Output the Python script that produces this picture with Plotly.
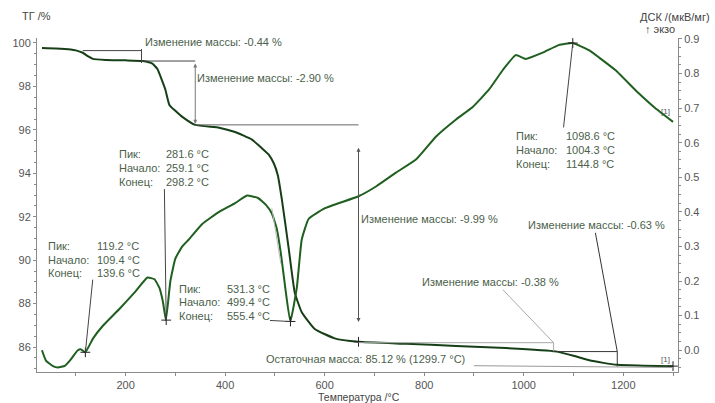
import plotly.graph_objects as go

# ---- data ----
tg_temp = [32, 60, 90, 100, 114, 125, 134, 160, 200, 234, 254, 264, 272, 280, 288, 300, 314, 340,
           388, 420, 454, 474, 488, 498, 506, 514, 528, 540, 554, 580, 620, 668, 764, 864, 964,
           1064, 1100, 1130, 1160, 1188, 1240, 1300]
tg_mass = [99.77, 99.75, 99.7, 99.66, 99.55, 99.38, 99.27, 99.22, 99.2, 99.17, 99.05, 98.8, 98.35,
           97.85, 97.15, 96.88, 96.6, 96.23, 96.1, 95.9, 95.55, 95.15, 94.85, 94.45, 93.9, 92.8,
           90.5, 88.5, 87.6, 86.83, 86.4, 86.24, 86.15, 86.05, 85.95, 85.8, 85.6, 85.4, 85.27,
           85.18, 85.14, 85.12]

dsc_temp = [32, 40, 54, 64, 78, 88, 104, 110, 119, 135, 154, 188, 220, 244, 258, 268, 275, 281,
            290, 300, 314, 327, 354, 388, 420, 444, 466, 482, 494, 504, 512, 520, 531, 544, 554,
            568, 600, 668, 704, 744, 784, 824, 864, 898, 930, 958, 984, 1004, 1038, 1070, 1098,
            1130, 1184, 1230, 1264, 1300]
dsc_val = [0.0, -0.03, -0.046, -0.05, -0.045, -0.03, 0.0, 0.003, -0.006, 0.035, 0.07, 0.12,
           0.17, 0.21, 0.205, 0.18, 0.14, 0.087, 0.2, 0.265, 0.3, 0.32, 0.365, 0.4, 0.425, 0.447,
           0.44, 0.42, 0.395, 0.35, 0.28, 0.19, 0.083, 0.18, 0.32, 0.38, 0.41, 0.445, 0.474,
           0.514, 0.552, 0.618, 0.667, 0.704, 0.753, 0.81, 0.853, 0.842, 0.86, 0.882, 0.888,
           0.868, 0.81, 0.744, 0.70, 0.66]

# peak annotations (DSC): temps, labels
peak_temp = [119.2, 281.6, 531.3, 1098.6]
peak_onset = [109.4, 259.1, 499.4, 1004.3]
peak_end = [139.6, 298.2, 555.4, 1144.8]
peak_val = [-0.006, 0.087, 0.083, 0.888]

mass_changes = [-0.44, -2.90, -9.99, -0.38, -0.63]
residual_mass = 85.12
residual_temp = 1299.7

TG_COLOR = "#173f17"
DSC_COLOR = "#1f5f1f"
TXT = "#4b614b"
FONT = "Liberation Sans, Arial, sans-serif"

fig = go.Figure()
fig.add_trace(go.Scatter(x=tg_temp, y=tg_mass, mode="lines", yaxis="y",
                         line=dict(color=TG_COLOR, width=2, shape="spline", smoothing=0.4),
                         showlegend=False, hoverinfo="skip"))
fig.add_trace(go.Scatter(x=dsc_temp, y=dsc_val, mode="lines", yaxis="y2",
                         line=dict(color=DSC_COLOR, width=2, shape="spline", smoothing=0.4),
                         showlegend=False, hoverinfo="skip"))
# cross markers at peaks
fig.add_trace(go.Scatter(x=peak_temp, y=peak_val, mode="markers", yaxis="y2",
                         marker=dict(symbol="cross-thin", size=7, line=dict(color="#222", width=1)),
                         showlegend=False, hoverinfo="skip"))
fig.add_trace(go.Scatter(x=[668, 1300], y=[86.24, 85.12], mode="markers", yaxis="y",
                         marker=dict(symbol="cross-thin", size=7, line=dict(color="#222", width=1)),
                         showlegend=False, hoverinfo="skip"))

shapes = []
ann = []


def seg(x0, y0, x1, y1, yref="y", color="#555", width=1):
    shapes.append(dict(type="line", xref="x", yref=yref, x0=x0, y0=y0, x1=x1, y1=y1,
                       line=dict(color=color, width=width)))


def txt(x, y, s, yref="y", xanchor="left", size=11, color=TXT):
    ann.append(dict(x=x, y=y, xref="x", yref=yref, text=s, showarrow=False, xanchor=xanchor,
                    yanchor="middle", font=dict(family=FONT, size=size, color=color)))


def darrow(x, y0, y1, color="#666"):
    ann.append(dict(x=x, y=y1, ax=x, ay=y0, xref="x", yref="y", axref="x", ayref="y", text="",
                    showarrow=True, arrowhead=2, arrowside="end+start", arrowsize=0.8,
                    arrowwidth=1, arrowcolor=color))


# mass change -0.44
seg(114, 99.65, 232, 99.65, color="#444")
seg(232, 99.72, 232, 99.08, color="#444")
seg(232, 99.17, 340, 99.17, color="#444")
txt(234, 100.03, "Изменение массы: %.2f %%" % mass_changes[0])
# mass change -2.90
darrow(340, 99.12, 96.28, color="#777")
seg(340, 96.23, 668, 96.23, color="#666")
txt(340, 98.38, "Изменение массы: %.2f %%" % mass_changes[1])
# mass change -9.99
darrow(668, 95.25, 87.15, color="#555")
txt(668, 91.9, "Изменение массы: %.2f %%" % mass_changes[2])
# mass change -0.38
seg(668, 86.2, 1060, 86.2, color="#aaa")
seg(1060, 86.2, 1060, 85.8, color="#aaa")
seg(958, 88.64, 1060, 86.2, color="#aaa")
txt(934, 89.0, "Изменение массы: %.2f %%" % mass_changes[3], xanchor="center")
# mass change -0.63
seg(1060, 85.79, 1188, 85.79, color="#333")
seg(1188, 85.79, 1188, 85.1, color="#333")
seg(1144, 91.26, 1188, 85.79, color="#333")
txt(1146, 91.63, "Изменение массы: %.2f %%" % mass_changes[4], xanchor="center")
# residual mass
seg(900, 85.14, 1300, 85.06, color="#999")
txt(478, 85.44, "Остаточная масса: %.2f %% (%.1f °C)" % (residual_mass, residual_temp))

# peak labels (in DSC units)
peak_label_pos = [  # (label x, value x, top row y, line start x, line start y)
    (40, 138, 0.302, 134, 0.204),
    (182, 278, 0.566, 278, 0.466),
    (304, 400, 0.178, 490, 0.086),
    (980, 1080, 0.618, 1080, 0.644),
]
row_gap = 0.040
for i, (lx, vx, ty, sx, sy) in enumerate(peak_label_pos):
    rows = [("Пик:", peak_temp[i]), ("Начало:", peak_onset[i]), ("Конец:", peak_end[i])]
    for r, (lab, val) in enumerate(rows):
        txt(lx, ty - r * row_gap, lab, yref="y2")
        txt(vx, ty - r * row_gap, "%.1f °C" % val, yref="y2")
    seg(sx, sy, peak_temp[i], peak_val[i], yref="y2", color="#444")

# tangent hints (thin grey)
seg(494, 0.41, 512, 0.25, yref="y2", color="#bbb")

# [1] labels
txt(1298, 0.69, "[1]", yref="y2", xanchor="right", size=8, color="#555")
txt(1298, 85.42, "[1]", xanchor="right", size=8, color="#555")


# axis titles (paper coords)
def ptxt(x, y, s, xanchor, size=11):
    ann.append(dict(x=x, y=y, xref="paper", yref="paper", text=s, showarrow=False,
                    xanchor=xanchor, yanchor="middle", font=dict(family=FONT, size=size, color="#444")))


ptxt(-0.027, 1.065, "ТГ /%", "left")
ptxt(1.053, 1.062, "ДСК /(мкВ/мг)", "right")
ptxt(0.999, 1.027, "↑ экзо", "right", size=11)
ptxt(0.502, -0.074, "Температура /°C", "center", size=10.5)

axis_common = dict(showline=True, linecolor="#8a8a8a", linewidth=1, ticks="outside",
                   ticklen=3, tickcolor="#8a8a8a", showgrid=False, zeroline=False,
                   tickfont=dict(family=FONT, size=11, color="#555"))

fig.update_layout(
    width=715, height=403,
    margin=dict(l=34, r=37, t=38, b=29),
    paper_bgcolor="white", plot_bgcolor="white",
    xaxis=dict(range=[22, 1310], tickvals=[200, 400, 600, 800, 1000, 1200],
               minor=dict(dtick=100, tick0=0, ticks="outside", ticklen=3, tickcolor="#8a8a8a"),
               **axis_common),
    yaxis=dict(range=[84.85, 100.23], tickvals=[86, 88, 90, 92, 94, 96, 98, 100],
               minor=dict(dtick=0.5, tick0=0, ticks="outside", ticklen=2, tickcolor="#8a8a8a"),
               **axis_common),
    yaxis2=dict(range=[-0.063, 0.9025], overlaying="y", side="right",
                tickvals=[0.0, 0.1, 0.2, 0.3, 0.4, 0.5, 0.6, 0.7, 0.8, 0.9],
                tickformat=".1f",
                minor=dict(dtick=0.025, tick0=0, ticks="outside", ticklen=2, tickcolor="#8a8a8a"),
                **axis_common),
    shapes=shapes,
    annotations=ann,
)

fig.write_html("out.html")
